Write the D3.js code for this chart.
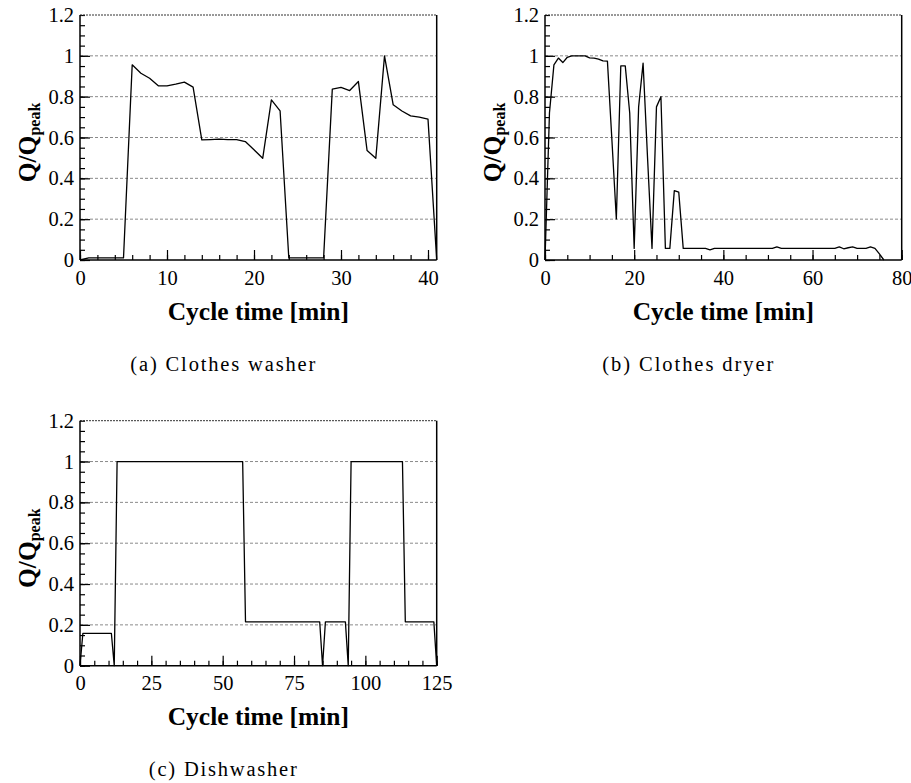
<!DOCTYPE html>
<html>
<head>
<meta charset="utf-8">
<script src="https://cdn.jsdelivr.net/npm/d3@7"></script>
<style>
body { margin: 0; background: #fff; }
text { font-family: "Liberation Serif", "Times New Roman", serif; }
</style>
</head>
<body>
<svg id="chart"></svg>
<script>
// data (time in minutes, Q/Qpeak)
var washerTime = [0,1,2,3,4,5,6,7,8,9,10,11,12,13,14,15,16,17,18,19,20,21,22,23,24,25,26,27,28,29,30,31,32,33,34,35,36,37,38,39,40,41]
var washerValue = [0,0.01,0.01,0.01,0.01,0.01,0.956,0.915,0.89,0.853,0.853,0.861,0.871,0.847,0.588,0.59,0.592,0.59,0.59,0.58,0.54,0.498,0.784,0.73,0.01,0.01,0.01,0.01,0.01,0.837,0.845,0.83,0.874,0.536,0.498,1.0,0.76,0.73,0.706,0.7,0.69,0]

var dryerTime = [0,1,2,3,4,5,6,7,8,9,10,11,12,13,14,15,16,17,18,19,20,21,22,23,24,25,26,27,28,29,30,31,32,33,34,35,36,37,38,39,40,41,42,43,44,45,46,47,48,49,50,51,52,53,54,55,56,57,58,59,60,61,62,63,64,65,66,67,68,69,70,71,72,73,74,75,76]
var dryerValue = [0,0.72,0.956,0.989,0.967,0.993,1.0,1.0,1.0,1.0,0.99,0.989,0.984,0.975,0.974,0.59,0.201,0.951,0.951,0.72,0.057,0.75,0.964,0.5,0.057,0.75,0.8,0.057,0.057,0.34,0.332,0.057,0.057,0.057,0.057,0.057,0.057,0.05,0.057,0.057,0.057,0.057,0.057,0.057,0.057,0.057,0.057,0.057,0.057,0.057,0.057,0.057,0.064,0.057,0.057,0.057,0.057,0.057,0.057,0.057,0.057,0.057,0.057,0.057,0.057,0.057,0.064,0.055,0.06,0.064,0.057,0.057,0.057,0.064,0.057,0.03,0]

var dishTime = [0,1,11,12,13,57,58,84,85,86,93,94,95,113,114,124,125]
var dishValue = [0,0.158,0.158,0,1,1,0.215,0.215,0,0.215,0.215,0,1,1,0.215,0.215,0]

// tick labels
var yMajor = [0,0.2,0.4,0.6,0.8,1,1.2]
var washerXMajor = [0,10,20,30,40]
var dryerXMajor = [0,20,40,60,80]
var dishXMajor = [0,25,50,75,100,125]
var captions = ["(a)  Clothes washer", "(b)  Clothes dryer", "(c)  Dishwasher"]

var width = 911
var height = 783
var PW = 356.7
var PH = 245

var svg = d3.select("#chart")
	.attr("width", width)
	.attr("height", height)
svg.append("rect").attr("width", width).attr("height", height).attr("fill", "#fff")

var fmt = d3.format("~g")

var drawPanel = (p) => {
	var g = svg.append("g").attr("transform", "translate(" + p.left + "," + p.top + ")")
	var x = d3.scaleLinear().domain([0, p.xMax]).range([0, PW])
	var y = d3.scaleLinear().domain([0, 1.2]).range([PH, 0])

	// dashed grid
	g.append("g").selectAll("line").data(yMajor.slice(1, -1)).enter().append("line")
		.attr("x1", 0).attr("x2", PW)
		.attr("y1", d => y(d)).attr("y2", d => y(d))
		.attr("stroke", "#8a8a8a")
		.attr("stroke-width", 1)
		.attr("stroke-dasharray", "3,2")

	// minor + major ticks
	var xMinorAxis = g.append("g").attr("transform", "translate(0," + PH + ")")
		.call(d3.axisBottom(x).tickValues(d3.range(0, p.xMax + 0.001, p.xMinorStep)).tickSize(-5).tickFormat(""))
	var xMajorAxis = g.append("g").attr("transform", "translate(0," + PH + ")")
		.call(d3.axisBottom(x).tickValues(p.xMajor).tickSize(-10).tickPadding(10).tickFormat(fmt))
	var yMinorAxis = g.append("g")
		.call(d3.axisLeft(y).tickValues(d3.range(0, 1.2001, 0.05)).tickSize(-5).tickFormat(""))
	var yMajorAxis = g.append("g")
		.call(d3.axisLeft(y).tickValues(yMajor).tickSize(-10).tickPadding(6).tickFormat(fmt))
	;[xMinorAxis, xMajorAxis, yMinorAxis, yMajorAxis].forEach(a => {
		a.select(".domain").remove()
		a.selectAll("line").attr("stroke", "#000").attr("stroke-width", 1.2)
		a.selectAll("text")
			.style("font-family", "'Liberation Serif', 'Times New Roman', serif")
			.style("font-size", "20.5px")
			.attr("fill", "#000")
	})
	yMajorAxis.selectAll(".tick").filter(d => d === 1.2).select("line").remove()

	// frame
	g.append("line").attr("x1", 0).attr("x2", PW).attr("y1", 0).attr("y2", 0)
		.attr("stroke", "#333").attr("stroke-width", 1).attr("stroke-dasharray", "2,1")
	g.append("line").attr("x1", PW).attr("x2", PW).attr("y1", 0).attr("y2", PH)
		.attr("stroke", "#000").attr("stroke-width", 1.5)
	g.append("line").attr("x1", 0).attr("x2", 0).attr("y1", 0).attr("y2", PH)
		.attr("stroke", "#000").attr("stroke-width", 1.5)
	g.append("line").attr("x1", 0).attr("x2", PW).attr("y1", PH).attr("y2", PH)
		.attr("stroke", "#000").attr("stroke-width", 1.5)

	// series
	g.append("path")
		.datum(d3.zip(p.time, p.value))
		.attr("fill", "none")
		.attr("stroke", "#000")
		.attr("stroke-width", 1.3)
		.attr("stroke-linejoin", "round")
		.attr("d", d3.line().x(d => x(d[0])).y(d => y(d[1])))

	// axis titles
	g.append("text")
		.attr("x", PW / 2)
		.attr("y", PH + 59.5)
		.attr("text-anchor", "middle")
		.attr("font-size", "25.5px")
		.attr("font-weight", "bold")
		.text("Cycle time [min]")
	var yt = g.append("text")
		.attr("transform", "translate(-44.5," + (PH / 2 + 5) + ") rotate(-90)")
		.attr("text-anchor", "middle")
		.attr("font-weight", "bold")
	yt.append("tspan").attr("font-size", "25.5px").text("Q/Q")
	yt.append("tspan").attr("font-size", "16px").attr("dy", 4).text("peak")

	// caption
	g.append("text")
		.attr("x", PW / 2 - 35.5)
		.attr("y", PH + 110.5)
		.attr("text-anchor", "middle")
		.attr("font-size", "20.5px")
		.attr("textLength", p.capWidth)
		.attr("lengthAdjust", "spacing")
		.text(p.caption)
}

drawPanel({ left: 80, top: 15, xMax: 41, xMajor: washerXMajor, xMinorStep: 2, time: washerTime, value: washerValue, caption: captions[0], capWidth: 185 })
drawPanel({ left: 545, top: 15, xMax: 80, xMajor: dryerXMajor, xMinorStep: 5, time: dryerTime, value: dryerValue, caption: captions[1], capWidth: 171 })
drawPanel({ left: 80, top: 420.7, xMax: 125, xMajor: dishXMajor, xMinorStep: 5, time: dishTime, value: dishValue, caption: captions[2], capWidth: 148 })
</script>
</body>
</html>
